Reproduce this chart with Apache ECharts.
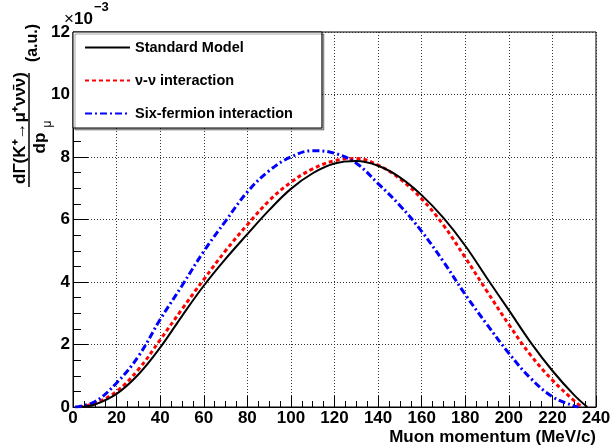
<!DOCTYPE html>
<html>
<head>
<meta charset="utf-8">
<script src="https://cdn.jsdelivr.net/npm/echarts@6/dist/echarts.min.js"></script>
<style>
  html, body { margin: 0; padding: 0; background: #fff; }
  #chart { width: 610px; height: 447px; }
</style>
</head>
<body>
<div id="chart"></div>
<script>
// muon momentum (MeV/c) and dGamma/dp (units of 1e-3, a.u.)
const smMomentum = [4, 10, 20, 30, 40, 50, 60, 70, 80, 90, 100, 110, 120, 130, 140, 150, 160, 170, 180, 190, 200, 210, 220, 230, 236];
const smValues = [0, 0.08, 0.42, 1.04, 1.9, 2.91, 3.88, 4.74, 5.53, 6.3, 6.98, 7.48, 7.79, 7.87, 7.72, 7.35, 6.78, 6.05, 5.16, 4.12, 3.1, 2.07, 1.16, 0.38, 0];

const nuMomentum = [3, 10, 20, 30, 40, 50, 60, 70, 80, 90, 100, 110, 120, 130, 140, 150, 160, 170, 180, 190, 200, 210, 220, 230, 233.5];
const nuValues = [0, 0.12, 0.5, 1.2, 2.15, 3.13, 4.08, 5.0, 5.83, 6.6, 7.19, 7.62, 7.88, 7.95, 7.74, 7.3, 6.66, 5.82, 4.78, 3.7, 2.64, 1.66, 0.86, 0.2, 0];

const sixMomentum = [1, 10, 20, 30, 40, 50, 60, 70, 80, 90, 100, 110, 120, 130, 140, 150, 160, 170, 180, 190, 200, 210, 220, 230, 232];
const sixValues = [0, 0.17, 0.77, 1.62, 2.8, 3.88, 4.98, 5.95, 6.88, 7.56, 8.0, 8.2, 8.12, 7.8, 7.15, 6.45, 5.62, 4.65, 3.6, 2.64, 1.72, 0.92, 0.33, 0.03, 0];

const seriesNames = ['Standard Model', 'ν-ν interaction', 'Six-fermion interaction'];

const FONT = 'Liberation Sans, Arial, Helvetica, sans-serif';

function pairs(xs, ys) {
  return xs.map((x, i) => [x, ys[i]]);
}

const chart = echarts.init(document.getElementById('chart'), null, { renderer: 'canvas' });

const axisCommon = {
  type: 'value',
  axisLine: { show: true, onZero: false, lineStyle: { color: '#000', width: 1 } },
  axisLabel: { color: '#000', fontSize: 17, fontWeight: 'bold', fontFamily: FONT, showMinLabel: true, showMaxLabel: true },
  splitLine: { show: true, lineStyle: { color: '#333', width: 1, type: [1, 2] } }
};

const option = {
  animation: false,
  textStyle: { fontFamily: FONT },
  grid: {
    left: 73, top: 32, right: 14, bottom: 40,
    show: true, borderColor: '#000', borderWidth: 1,
    outerBoundsMode: 'none'
  },
  legend: {
    data: seriesNames,
    orient: 'vertical',
    left: 73, top: 32,
    itemWidth: 45, itemHeight: 14, itemGap: 18,
    padding: [8, 29, 7, 11],
    backgroundColor: '#fff',
    borderColor: '#000', borderWidth: 1,
    shadowColor: 'rgba(0,0,0,0.35)', shadowOffsetX: 2, shadowOffsetY: 2, shadowBlur: 0,
    selectedMode: false,
    itemStyle: { opacity: 0 },
    textStyle: { fontSize: 14.5, fontWeight: 'bold', color: '#000', fontFamily: FONT }
  },
  xAxis: Object.assign({}, axisCommon, {
    min: 0, max: 240, interval: 20,
    axisTick: { show: true, inside: true, length: 11, lineStyle: { color: '#000' } },
    minorTick: { show: true, splitNumber: 4, length: 6, lineStyle: { color: '#000' } },
    axisLabel: Object.assign({}, axisCommon.axisLabel, { margin: 3 })
  }),
  yAxis: Object.assign({}, axisCommon, {
    min: 0, max: 12, interval: 2,
    axisTick: { show: true, inside: true, length: 15, lineStyle: { color: '#000' } },
    minorTick: { show: true, splitNumber: 4, length: 8, lineStyle: { color: '#000' } },
    axisLabel: Object.assign({}, axisCommon.axisLabel, { margin: 3 })
  }),
  series: [
    {
      name: seriesNames[0], type: 'line', data: pairs(smMomentum, smValues),
      symbol: 'none', showSymbol: false, smooth: 0.4, z: 4,
      itemStyle: { color: '#000' },
      lineStyle: { color: '#000', width: 2, type: 'solid' }
    },
    {
      name: seriesNames[1], type: 'line', data: pairs(nuMomentum, nuValues),
      symbol: 'none', showSymbol: false, smooth: 0.4, z: 3,
      itemStyle: { color: '#ff0000' },
      lineStyle: { color: '#ff0000', width: 3, type: [4, 3] }
    },
    {
      name: seriesNames[2], type: 'line', data: pairs(sixMomentum, sixValues),
      symbol: 'none', showSymbol: false, smooth: 0.4, z: 3,
      itemStyle: { color: '#0000ff' },
      lineStyle: { color: '#0000ff', width: 3, type: [7, 3, 2, 3] }
    }
  ],
  graphic: [
    // exponent above the y axis
    { type: 'text', x: 64, y: 19, style: { text: '×', font: '17px ' + FONT, fill: '#000', verticalAlign: 'middle' } },
    { type: 'text', x: 74, y: 19, style: { text: '10', font: 'bold 17px ' + FONT, fill: '#000', verticalAlign: 'middle' } },
    { type: 'text', x: 94, y: 7, style: { text: '−3', font: 'bold 13px ' + FONT, fill: '#000', verticalAlign: 'middle' } },
    // y axis title: fraction dGamma / dp_mu (a.u.)
    { type: 'text', x: 20, y: 128, rotation: Math.PI / 2,
      style: { text: 'dΓ(K⁺→μ⁺νν̄ν)', font: 'bold 17px ' + FONT, fill: '#000', align: 'center', verticalAlign: 'middle' } },
    { type: 'line', shape: { x1: 29, y1: 73, x2: 29, y2: 187 }, style: { stroke: '#000', lineWidth: 1.5 } },
    { type: 'text', x: 40, y: 143, rotation: Math.PI / 2,
      style: { text: 'dp', font: 'bold 17px ' + FONT, fill: '#000', align: 'center', verticalAlign: 'middle' } },
    { type: 'text', x: 48, y: 124, rotation: Math.PI / 2,
      style: { text: 'μ', font: '12px ' + FONT, fill: '#000', align: 'center', verticalAlign: 'middle' } },
    { type: 'text', x: 33, y: 43, rotation: Math.PI / 2,
      style: { text: '(a.u.)', font: 'bold 16px ' + FONT, fill: '#000', align: 'center', verticalAlign: 'middle' } },
    // x axis title
    { type: 'text', x: 596, y: 437, style: { text: 'Muon momentum (MeV/c)', font: 'bold 17px ' + FONT, fill: '#000', align: 'right', verticalAlign: 'middle' } }
  ]
};

chart.setOption(option);
</script>
</body>
</html>
